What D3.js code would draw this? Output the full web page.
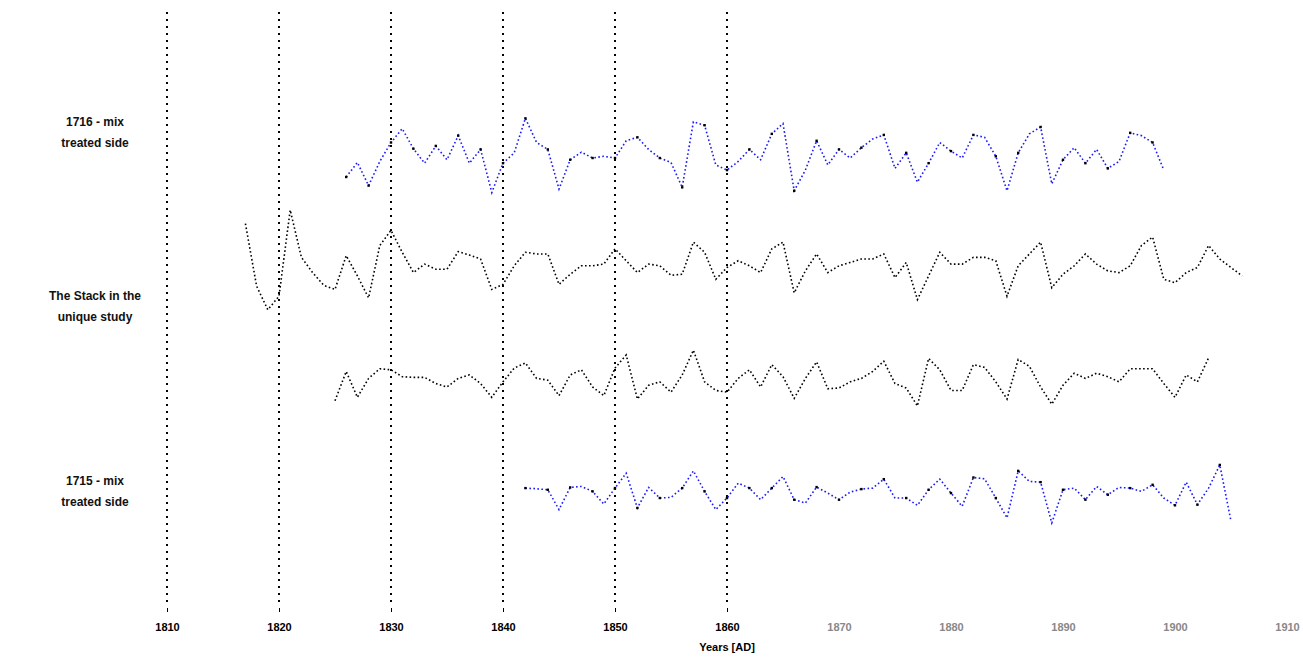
<!DOCTYPE html>
<html>
<head>
<meta charset="utf-8">
<script src="https://cdn.jsdelivr.net/npm/d3@7"></script>
<style>
  html, body { margin: 0; padding: 0; background: #fff; }
  svg { display: block; }
  text { font-family: "Liberation Sans", Arial, sans-serif; }
</style>
</head>
<body>
<svg id="chart" width="1303" height="662"></svg>
<script>
// ---------- DATA ----------
const tickYears = [1810, 1820, 1830, 1840, 1850, 1860, 1870, 1880, 1890, 1900, 1910];
const gridYears = [1810, 1820, 1830, 1840, 1850, 1860];

const s1Start = 1826;
const s1Values = [1.00,1.42,0.75,1.45,2.00,2.40,1.82,1.40,1.90,1.50,
                  2.20,1.40,1.80,0.55,1.40,1.70,2.70,2.00,1.80,0.65,
                  1.50,1.72,1.55,1.60,1.55,2.05,2.15,1.80,1.55,1.42,
                  0.70,2.60,2.50,1.35,1.20,1.45,1.80,1.50,2.25,2.55,
                  0.60,1.20,2.05,1.35,1.80,1.55,1.85,2.10,2.22,1.25,
                  1.70,0.85,1.40,2.00,1.75,1.55,2.22,2.15,1.60,0.60,
                  1.70,2.25,2.45,0.80,1.50,1.85,1.40,1.80,1.25,1.45,
                  2.28,2.20,2.00,1.20];

const s2Start = 1817;
const s2Values = [2.25,0.40,-0.30,0.10,2.65,1.25,0.80,0.42,0.30,1.30,
                  0.70,0.05,1.60,2.05,1.40,0.80,1.05,0.90,0.90,1.42,
                  1.32,1.20,0.30,0.45,1.00,1.40,1.35,1.35,0.45,0.75,
                  1.00,1.00,1.05,1.50,1.15,0.80,1.05,1.00,0.72,0.75,
                  1.70,1.40,0.60,0.95,1.15,1.00,0.80,1.50,1.70,0.20,
                  0.85,1.35,0.80,1.00,1.10,1.20,1.20,1.35,0.65,1.10,
                  0.00,0.70,1.40,1.05,1.05,1.25,1.25,1.15,0.10,1.00,
                  1.35,1.70,0.35,0.75,1.00,1.35,1.05,0.85,0.80,1.00,
                  1.60,1.85,0.60,0.50,0.80,0.95,1.60,1.20,0.95,0.70];

const s3Start = 1825;
const s3Values = [1.35,2.20,1.45,2.00,2.28,2.25,2.05,2.03,2.03,1.85,
                  1.75,2.00,2.10,1.85,1.45,1.90,2.30,2.45,2.00,1.95,
                  1.50,2.10,2.25,1.75,1.50,2.30,2.68,1.40,1.80,1.90,
                  1.60,2.10,2.82,1.90,1.65,1.60,2.00,2.25,1.75,2.40,
                  2.05,1.42,2.00,2.48,1.70,1.72,1.90,2.00,2.20,2.50,
                  1.85,1.72,1.20,2.58,2.25,1.65,1.65,2.40,2.32,1.90,
                  1.40,2.55,2.35,1.75,1.25,1.80,2.15,2.00,2.15,2.05,
                  1.90,2.28,2.28,2.28,1.85,1.45,2.10,1.90,2.60];

const s4Start = 1842;
const s4Values = [2.00,1.98,1.95,1.35,2.02,2.05,1.90,1.52,2.00,2.45,
                  1.40,2.02,1.70,1.72,2.00,2.52,1.90,1.35,1.70,2.15,
                  2.00,1.65,2.00,2.35,1.65,1.55,2.03,1.85,1.65,1.88,
                  1.97,2.00,2.27,1.70,1.70,1.48,1.95,2.27,1.85,1.45,
                  2.32,2.28,1.70,1.10,2.52,2.20,2.18,0.95,1.95,2.00,
                  1.65,2.05,1.80,2.02,2.00,1.90,2.10,1.70,1.48,2.18,
                  1.50,2.00,2.70,1.00];

const groupLabels = [
  {lines: ["1716 - mix", "treated side"], y: 122},
  {lines: ["The Stack in the", "unique study"], y: 296},
  {lines: ["1715 - mix", "treated side"], y: 481}
];

// ---------- CHART ----------
const svg = d3.select("#chart");
const x = d3.scaleLinear().domain([1810, 1910]).range([167, 1287]);

// vertical dotted gridlines
svg.append("g").selectAll("line").data(gridYears).join("line")
  .attr("x1", d => x(d)).attr("x2", d => x(d))
  .attr("y1", 12).attr("y2", 607)
  .attr("stroke", "#000").attr("stroke-width", 2)
  .attr("stroke-dasharray", "2,5");

// x axis
const axis = d3.axisBottom(x).tickValues(tickYears).tickFormat(d3.format("d"))
  .tickSize(4).tickPadding(11);
const gAx = svg.append("g").attr("transform", "translate(0,608)").call(axis);
gAx.select(".domain").remove();
gAx.selectAll(".tick line").attr("stroke", d => d <= 1860 ? "#000" : "none");
gAx.selectAll(".tick text")
  .attr("font-size", 11).attr("font-weight", "bold")
  .attr("font-family", "'Liberation Sans', Arial, sans-serif")
  .attr("fill", d => d <= 1860 ? "#000" : "#888");

svg.append("text").attr("x", x(1860)).attr("y", 651)
  .attr("text-anchor", "middle").attr("font-size", 11).attr("font-weight", "bold")
  .text("Years [AD]");

// group labels
groupLabels.forEach(g => {
  const t = svg.append("text").attr("text-anchor", "middle")
    .attr("font-size", 12).attr("font-weight", "bold").attr("fill", "#111");
  g.lines.forEach((l, i) => {
    t.append("tspan").attr("x", 95).attr("y", g.y + 4 + i * 21).text(l);
  });
});

// series
const series = [
  {start: s1Start, values: s1Values, base: 211.5, k: 34.5, color: "#1a1aff", markers: true},
  {start: s2Start, values: s2Values, base: 299.6, k: 33.8, color: "#000", markers: false},
  {start: s3Start, values: s3Values, base: 447.2, k: 34.4, color: "#000", markers: false},
  {start: s4Start, values: s4Values, base: 554.3, k: 33.1, color: "#1a1aff", markers: true}
];

series.forEach(s => {
  const y = d3.scaleLinear().domain([0, 3]).range([s.base, s.base - 3 * s.k]);
  const pts = s.values.map((v, i) => ({year: s.start + i, v}));
  const line = d3.line().x(d => x(d.year)).y(d => y(d.v));
  svg.append("path").datum(pts).attr("d", line)
    .attr("fill", "none").attr("stroke", s.color)
    .attr("stroke-width", 1.6).attr("stroke-dasharray", "1.6,2.4");
  if (s.markers) {
    svg.append("g").selectAll("rect").data(pts.filter((d, i) => i % 2 === 0)).join("rect")
      .attr("x", d => x(d.year) - 1.2).attr("y", d => y(d.v) - 1.2)
      .attr("width", 2.4).attr("height", 2.4).attr("fill", "#000");
  }
});
</script>
</body>
</html>
